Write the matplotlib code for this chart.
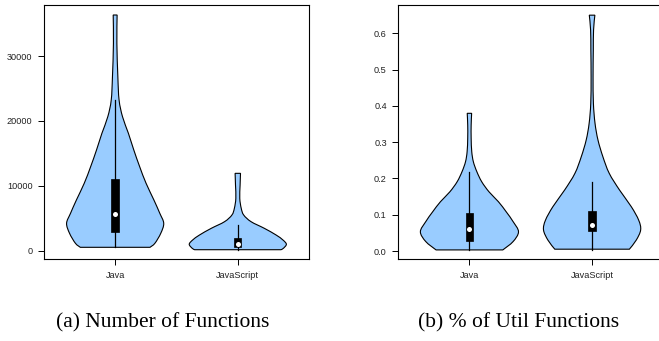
import numpy as np
import matplotlib
matplotlib.use("Agg")
import matplotlib.pyplot as plt
from matplotlib.path import Path
from matplotlib.patches import PathPatch


# ==========================================
# Data
# ==========================================

languages = ["Java", "JavaScript"]

# (a) Number of Functions: violin outline = value levels + relative density
func_java_levels = [520, 1140, 2680, 4220, 5760, 7810, 10390, 12940, 15520,
                    18090, 20650, 23220, 26800, 31960, 36320]
func_java_density = [0.71, 0.81, 0.93, 0.99, 0.91, 0.79, 0.63, 0.50, 0.38,
                     0.27, 0.15, 0.08, 0.055, 0.035, 0.04]

func_js_levels = [150, 370, 990, 1650, 2420, 3450, 4470, 5500, 6530, 8070,
                  10120, 11920]
func_js_density = [0.88, 0.93, 0.99, 0.92, 0.78, 0.54, 0.27, 0.12, 0.07,
                   0.04, 0.047, 0.055]

# box stats: min, q1, median, q3, whisker top
func_java_box = [520, 2930, 5700, 11030, 23270]
func_js_box = [150, 570, 1080, 1960, 3910]

# (b) % of Util Functions
util_java_levels = [0.003, 0.026, 0.053, 0.081, 0.108, 0.136, 0.163, 0.191,
                    0.219, 0.246, 0.274, 0.311, 0.347, 0.3795]
util_java_density = [0.68, 0.89, 1.00, 0.89, 0.75, 0.59, 0.40, 0.25,
                     0.15, 0.08, 0.047, 0.035, 0.035, 0.045]

util_js_levels = [0.005, 0.030, 0.058, 0.085, 0.122, 0.168, 0.214, 0.260,
                  0.306, 0.352, 0.407, 0.480, 0.554, 0.609, 0.650]
util_js_density = [0.76, 0.90, 0.99, 0.95, 0.80, 0.56, 0.35, 0.22,
                   0.12, 0.06, 0.027, 0.02, 0.025, 0.03, 0.057]

util_java_box = [0.003, 0.0284, 0.0615, 0.1056, 0.2186]
util_js_box = [0.003, 0.055, 0.0717, 0.110, 0.190]


# ==========================================
# Style
# ==========================================

VIOLIN_COLOR = "#99CCFF"
WEX = 0.4
BOX_HALF = 0.03

plt.rcParams["font.family"] = ["Liberation Sans", "DejaVu Sans"]


def smooth_side(pts):
    # catmull-rom through the read points, drawn as cubic bezier segments
    verts = []
    codes = []
    n = len(pts)
    for i in range(n - 1):
        p0 = pts[max(i - 1, 0)]
        p1 = pts[i]
        p2 = pts[i + 1]
        p3 = pts[min(i + 2, n - 1)]
        c1 = p1 + (p2 - p0) / 6.0
        c2 = p2 - (p3 - p1) / 6.0
        verts += [c1, c2, p2]
        codes += [Path.CURVE4] * 3
    return verts, codes


def draw_violin(ax, pos, levels, density, box):

    levels = np.asarray(levels, dtype=float)
    half = np.asarray(density) * WEX

    left = np.column_stack([pos - half, levels])
    right = np.column_stack([pos + half, levels])[::-1]

    verts = [left[0]]
    codes = [Path.MOVETO]

    v, c = smooth_side(left)
    verts += v
    codes += c

    verts.append(right[0])
    codes.append(Path.LINETO)

    v, c = smooth_side(right)
    verts += v
    codes += c

    verts.append(left[0])
    codes.append(Path.CLOSEPOLY)

    ax.add_patch(PathPatch(Path(np.array(verts), codes),
                           facecolor=VIOLIN_COLOR, edgecolor="black",
                           linewidth=0.8, zorder=2))

    lo, q1, med, q3, hi = box

    ax.plot([pos, pos], [lo, hi], color="black", linewidth=0.9, zorder=3)

    ax.add_patch(plt.Rectangle((pos - BOX_HALF, q1), 2 * BOX_HALF, q3 - q1,
                               facecolor="black", edgecolor="black",
                               linewidth=0.5, zorder=4))

    ax.plot(pos, med, "o", color="white", markersize=3.6,
            markeredgewidth=0, zorder=5)


def style_axes(ax):

    ax.set_xlim(0.42, 2.58)
    ax.set_xticks([1, 2])
    ax.set_xticklabels(languages)

    for sp in ax.spines.values():
        sp.set_linewidth(0.8)

    ax.tick_params(axis="both", labelsize=6.6, length=4, width=0.7,
                   pad=4.3, colors="black", labelcolor="#222222")


# ==========================================
# Figure
# ==========================================

fig = plt.figure(figsize=(6.59, 3.41), dpi=100)

ax1 = fig.add_axes([0.0668, 0.2405, 0.402, 0.7448])
ax2 = fig.add_axes([0.6044, 0.2405, 0.402, 0.7448])

draw_violin(ax1, 1, func_java_levels, func_java_density, func_java_box)
draw_violin(ax1, 2, func_js_levels, func_js_density, func_js_box)
style_axes(ax1)
ax1.set_ylim(-1280, 37860)
ax1.set_yticks([0, 10000, 20000, 30000])

draw_violin(ax2, 1, util_java_levels, util_java_density, util_java_box)
draw_violin(ax2, 2, util_js_levels, util_js_density, util_js_box)
style_axes(ax2)
ax2.set_ylim(-0.022, 0.678)
ax2.set_yticks([0.0, 0.1, 0.2, 0.3, 0.4, 0.5, 0.6])
ax2.set_yticklabels(["0.0", "0.1", "0.2", "0.3", "0.4", "0.5", "0.6"])
ax2.spines["right"].set_visible(False)


# ==========================================
# Captions
# ==========================================

fig.text(163 / 659, 1 - 323 / 341, "(a) Number of Functions",
         family=["Liberation Serif"], fontsize=15.5, ha="center", va="center")

fig.text(519 / 659, 1 - 323 / 341, "(b) % of Util Functions",
         family=["Liberation Serif"], fontsize=15.5, ha="center", va="center")


fig.savefig("out.png", dpi=100)
